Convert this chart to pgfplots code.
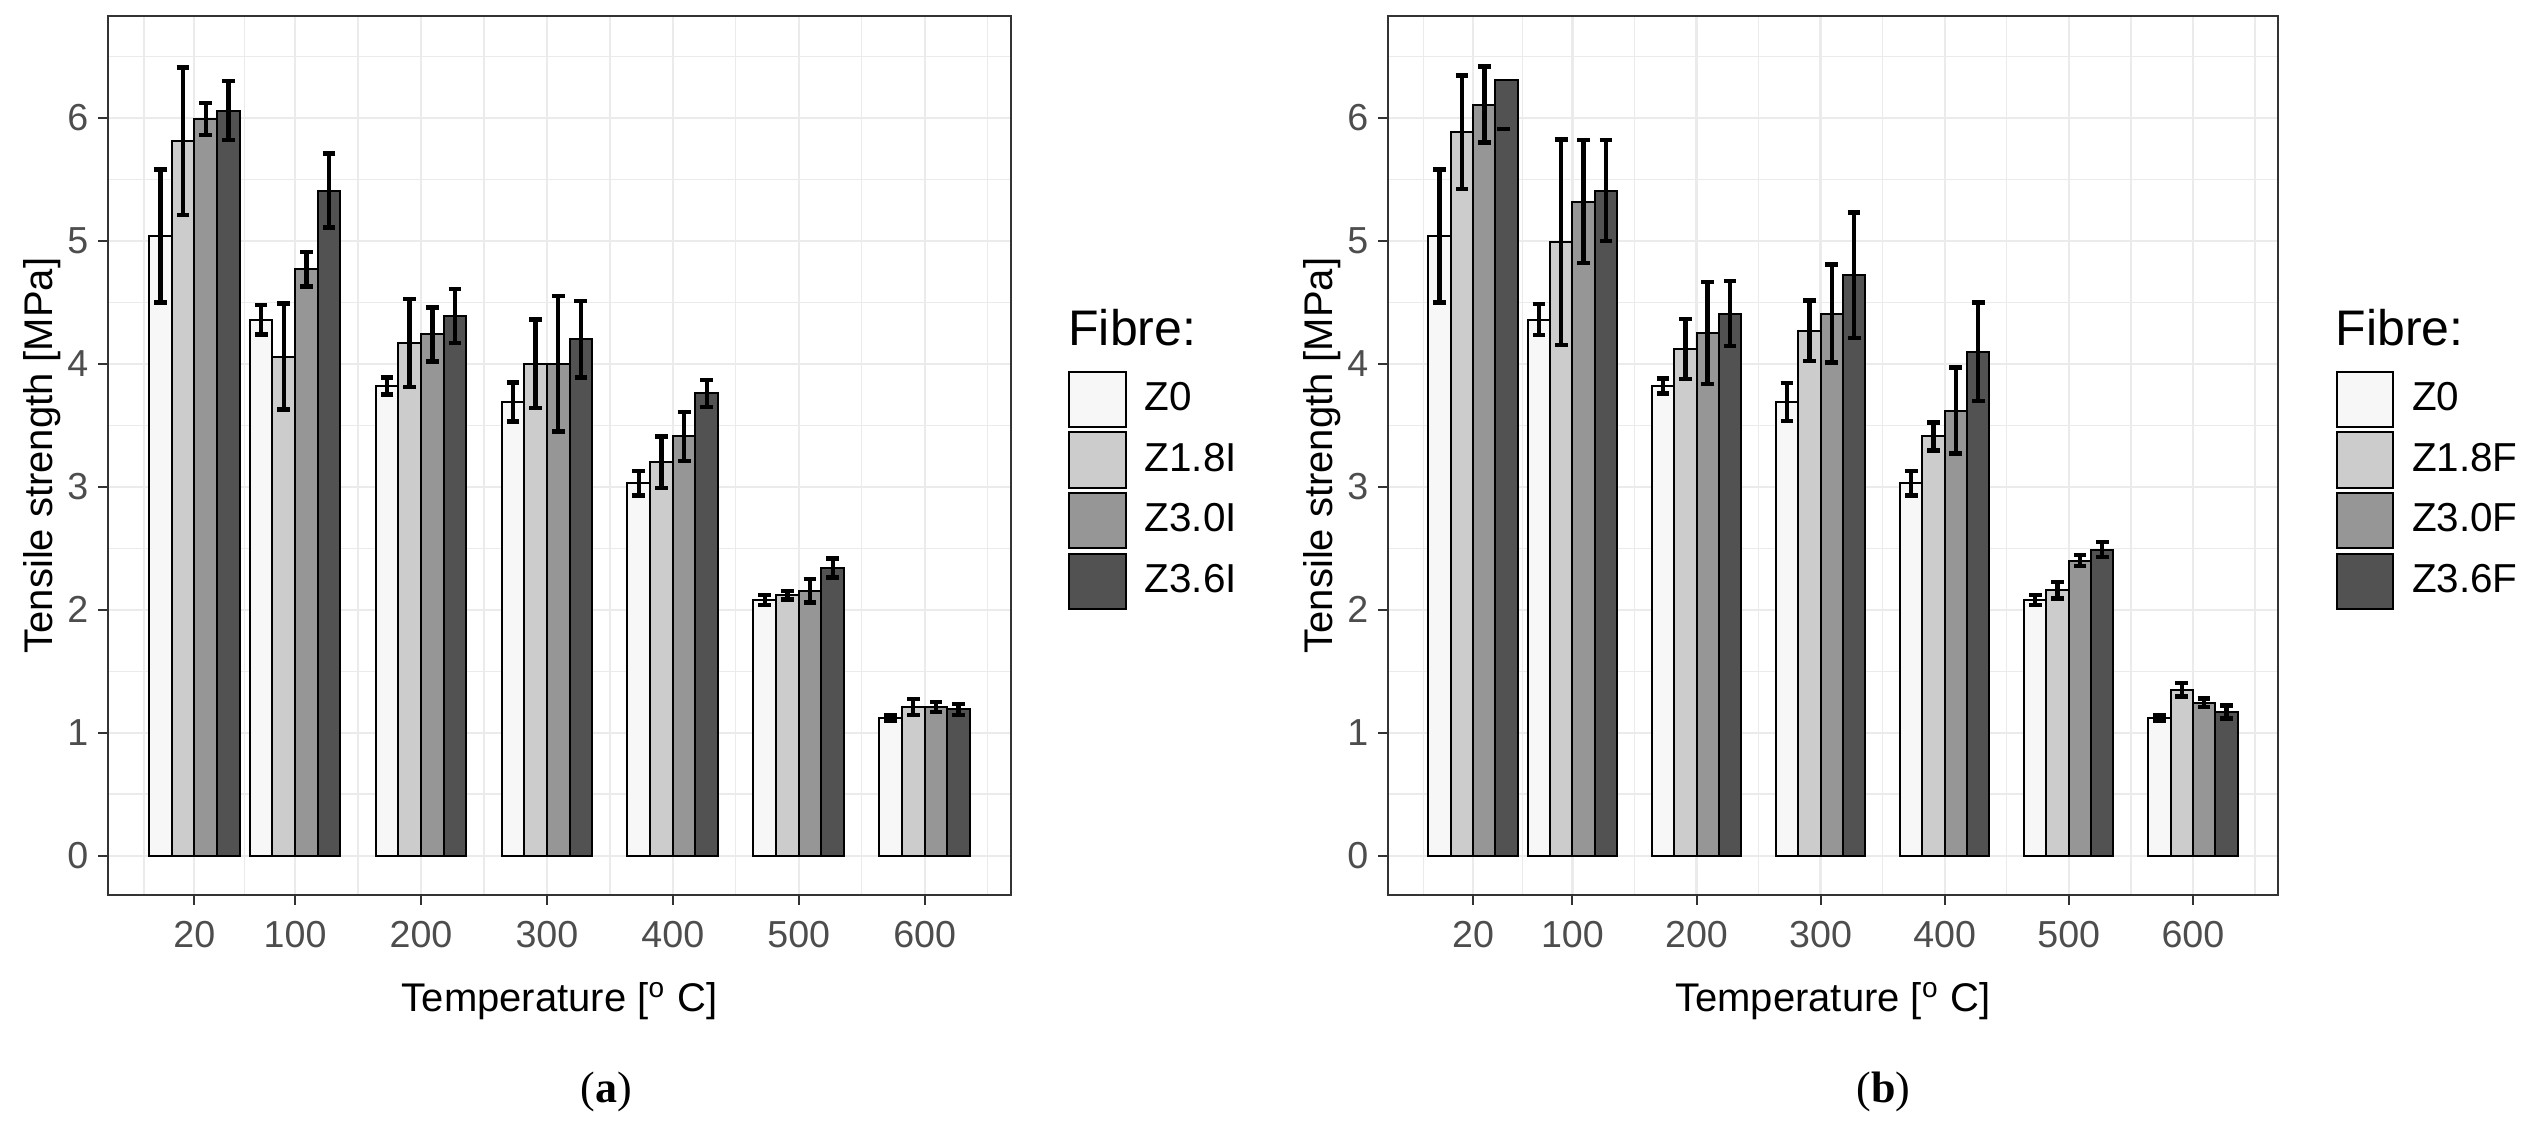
\documentclass[border=0pt]{standalone}
\usepackage{fontspec}
\setmainfont{Liberation Sans}
\newfontfamily\capfont{Liberation Serif}
\usepackage{pgfplots}
\usepackage{pgfplotstable}
\pgfplotsset{compat=1.18}
\definecolor{gA}{HTML}{F7F7F7}
\definecolor{gB}{HTML}{CCCCCC}
\definecolor{gC}{HTML}{969696}
\definecolor{gD}{HTML}{525252}
\definecolor{gridc}{HTML}{EBEBEB}
\definecolor{framec}{HTML}{333333}
\definecolor{tickc}{HTML}{4D4D4D}

% Panel (a): fibre type I
\pgfplotstableread{
T   A     eA     B     eB     C     eC     D     eD
20  5.04  0.54   5.81  0.60   5.99  0.13   6.06  0.24
100 4.36  0.12   4.06  0.43   4.77  0.14   5.41  0.30
200 3.82  0.07   4.17  0.36   4.24  0.22   4.39  0.22
300 3.69  0.16   4.00  0.36   4.00  0.55   4.20  0.31
400 3.03  0.10   3.20  0.21   3.41  0.20   3.76  0.11
500 2.08  0.04   2.12  0.035  2.155 0.095  2.34  0.076
600 1.12  0.02   1.21  0.065  1.21  0.04   1.19  0.045
}\tabI

% Panel (b): fibre type F
\pgfplotstableread{
T   A     eA     B     eB     C     eC     D     eD
20  5.04  0.54   5.885 0.46   6.11  0.31   6.31  0
100 4.36  0.125  4.99  0.835  5.32  0.50   5.41  0.41
200 3.82  0.062  4.12  0.245  4.25  0.415  4.41  0.265
300 3.69  0.155  4.27  0.245  4.41  0.40   4.72  0.51
400 3.03  0.10   3.41  0.115  3.62  0.35   4.10  0.40
500 2.08  0.04   2.16  0.068  2.40  0.045  2.49  0.06
600 1.12  0.02   1.35  0.054  1.245 0.035  1.17  0.053
}\tabF

\pgfplotsset{
  panel/.style={
    scale only axis, height=219.75pt,
    clip mode=individual,
    xmin=-48.6, xmax=668.6, ymin=-0.32, ymax=6.83,
    xtick={20,100,200,300,400,500,600},
    xticklabels={20,100,200,300,400,500,600},
    minor xtick={-20,60,150,250,350,450,550,650},
    ytick={0,1,2,3,4,5,6},
    yticklabels={0,1,2,3,4,5,6},
    minor ytick={0.5,1.5,2.5,3.5,4.5,5.5,6.5},
    grid=both,
    major grid style={draw=gridc, line width=0.55pt},
    minor grid style={draw=gridc, line width=0.35pt},
    tick align=outside, major tick length=2.5pt, minor tick length=0pt,
    xtick pos=left, ytick pos=left,
    tick style={draw=framec, line width=0.5pt},
    axis line style={draw=framec, line width=0.5pt},
    tick label style={font=\fontsize{9.4}{10}\selectfont, text=tickc},
    xticklabel style={anchor=base, inner sep=0pt, yshift=-10.5pt},
    yticklabel style={anchor=east, inner sep=0pt, xshift=-2.25pt},
    label style={font=\fontsize{11.5}{13}\selectfont},
    xlabel={Temperature [\textsuperscript{o} C]},
    ylabel={Tensile strength [MPa]},
    every axis x label/.style={at={(axis description cs:0.5,-0.1331)}, anchor=base},
    legend style={draw=none, fill=none, inner sep=0pt, row sep=0pt,
      font=\fontsize{10.1}{12}\selectfont, cells={anchor=west},
      nodes={inner sep=0pt}, anchor=north west},
  },
  errs/.style={error bars/.cd, y dir=both, y explicit,
    error bar style={draw=black, line width=1.1pt},
    error mark options={draw=black, rotate=90, mark size=1.6pt, line width=1.1pt},
    /pgfplots/.cd},
  bars/.style={ybar, bar width=18, bar shift=0pt, draw=black, line width=0.5pt, fill=#1,
    legend image code/.code={
      \path[draw=none, fill=none] (0pt,-7.6pt) rectangle (18.85pt,7.6pt);
      \draw[fill=#1, draw=black, line width=0.5pt] (0pt,-6.9pt) rectangle (14.1pt,6.9pt);}},
}

\begin{document}
\begin{tikzpicture}
\useasboundingbox (0,0) rectangle (632pt,281.5pt);

\begin{axis}[panel, width=225.75pt, at={(27pt,57.75pt)}, anchor=south west,
  every axis y label/.style={at={(axis description cs:-0.0620,0.5)}, rotate=90, anchor=base},
  legend style={at={(axis description cs:1.0627,0.5995)}}]
\addplot[bars=gA, errs] table[x expr=\thisrow{T}-27, y=A, y error=eA]{\tabI};
\addplot[bars=gB, errs] table[x expr=\thisrow{T}-9, y=B, y error=eB]{\tabI};
\addplot[bars=gC, errs] table[x expr=\thisrow{T}+9, y=C, y error=eC]{\tabI};
\addplot[bars=gD, errs] table[x expr=\thisrow{T}+27, y=D, y error=eD]{\tabI};
\legend{Z0,Z1.8I,Z3.0I,Z3.6I}
\node[anchor=base west, inner sep=0pt, font=\fontsize{12.5}{14}\selectfont] at (axis description cs:1.0627,0.6257) {Fibre:};
\end{axis}

\begin{axis}[panel, width=222.5pt, at={(347pt,57.75pt)}, anchor=south west,
  every axis y label/.style={at={(axis description cs:-0.0629,0.5)}, rotate=90, anchor=base},
  legend style={at={(axis description cs:1.0640,0.5995)}}]
\addplot[bars=gA, errs] table[x expr=\thisrow{T}-27, y=A, y error=eA]{\tabF};
\addplot[bars=gB, errs] table[x expr=\thisrow{T}-9, y=B, y error=eB]{\tabF};
\addplot[bars=gC, errs] table[x expr=\thisrow{T}+9, y=C, y error=eC]{\tabF};
\addplot[bars=gD] table[x expr=\thisrow{T}+27, y=D]{\tabF};
\addplot[ybar, bar width=18, bar shift=0pt, draw=none, fill=none, forget plot,
  skip coords between index={0}{1}, errs] table[x expr=\thisrow{T}+27, y=D, y error=eD]{\tabF};
\addplot[black, line width=1.1pt, forget plot] coordinates {(39.6,5.91) (50,5.91)};
\legend{Z0,Z1.8F,Z3.0F,Z3.6F}
\node[anchor=base west, inner sep=0pt, font=\fontsize{12.5}{14}\selectfont] at (axis description cs:1.0640,0.6257) {Fibre:};
\end{axis}

\node[anchor=base, inner sep=0pt, font=\capfont\fontsize{11}{13}\selectfont] at (151.5pt,6pt) {(\textbf{a})};
\node[anchor=base, inner sep=0pt, font=\capfont\fontsize{11}{13}\selectfont] at (470.9pt,6pt) {(\textbf{b})};
\end{tikzpicture}
\end{document}
